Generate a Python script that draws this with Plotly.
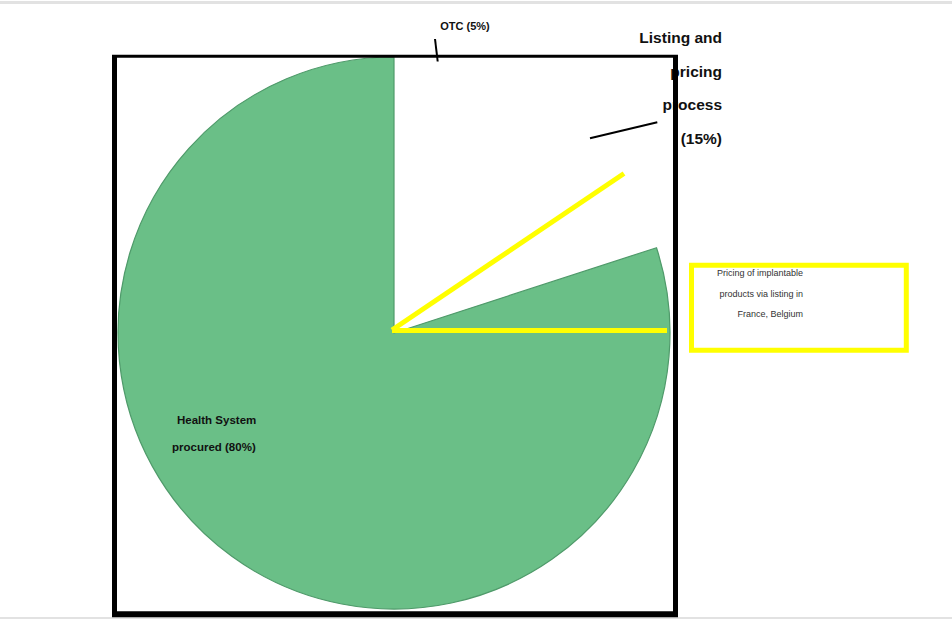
import plotly.graph_objects as go

# Share of reimbursement routes (drawn clockwise from 12 o'clock)
segments = ["OTC", "Listing and pricing process", "Health System procured"]
shares = [5, 15, 80]
slice_colors = ["#ffffff", "#ffffff", "#6abf87"]
edge_colors = ["#ffffff", "#ffffff", "#4f9a6a"]
edge_widths = [0, 0, 1.2]

# Label text
otc_label = "OTC (5%)"
listing_lines = ["Listing and", "pricing", "process", "(15%)"]
health_lines = ["Health System", "procured (80%)"]
box_lines = ["Pricing of implantable", "products via listing in", "France, Belgium"]

W, H = 952, 619
FONT = "Liberation Sans, Arial, sans-serif"

# Pie placement (pixels)
cx, cy, r = 394, 333, 276

fig = go.Figure()

fig.add_trace(go.Pie(
    labels=segments,
    values=shares,
    sort=False,
    direction="clockwise",
    rotation=0,
    marker=dict(colors=slice_colors, line=dict(color=edge_colors, width=edge_widths)),
    textinfo="none",
    hoverinfo="skip",
    showlegend=False,
    domain=dict(x=[(cx - r) / W, (cx + r) / W],
                y=[(H - cy - r) / H, (H - cy + r) / H]),
))

# Outside labels as text on a pixel-scaled axis
fig.add_trace(go.Scatter(
    x=[722] * len(listing_lines),
    y=[39 + 33.7 * i for i in range(len(listing_lines))],
    text=listing_lines,
    mode="text",
    textposition="middle left",
    textfont=dict(family=FONT, size=15.5, color="#111111", weight="bold"),
    hoverinfo="skip", showlegend=False,
))
fig.add_trace(go.Scatter(
    x=[465], y=[27], text=[otc_label], mode="text",
    textposition="middle center",
    textfont=dict(family=FONT, size=11, color="#111111", weight="bold"),
    hoverinfo="skip", showlegend=False,
))
fig.add_trace(go.Scatter(
    x=[803] * len(box_lines),
    y=[274 + 20.5 * i for i in range(len(box_lines))],
    text=box_lines, mode="text",
    textposition="middle left",
    textfont=dict(family=FONT, size=9, color="#333333"),
    hoverinfo="skip", showlegend=False,
))

# Label on the green slice
for i, line in enumerate(health_lines):
    fig.add_annotation(x=258, y=420 + 27 * i, xref="x", yref="y", text=f"<b>{line}</b>",
                       showarrow=False, xanchor="right", yanchor="middle",
                       font=dict(family=FONT, size=11.5, color="#111111"))

shapes = []
# thin grey page bands
shapes.append(dict(type="rect", x0=0, x1=W, y0=1, y1=4, fillcolor="#e2e2e2", line_width=0, layer="below"))
shapes.append(dict(type="rect", x0=0, x1=W, y0=617, y1=619, fillcolor="#e2e2e2", line_width=0, layer="below"))
# black frame around the pie
shapes.append(dict(type="line", x0=112, x1=678, y0=56.3, y1=56.3, line=dict(color="black", width=3)))
shapes.append(dict(type="line", x0=114.5, x1=114.5, y0=55, y1=617, line=dict(color="black", width=5)))
shapes.append(dict(type="line", x0=675.5, x1=675.5, y0=55, y1=617, line=dict(color="black", width=5)))
shapes.append(dict(type="line", x0=112, x1=678, y0=614.2, y1=614.2, line=dict(color="black", width=6)))
# leader lines
shapes.append(dict(type="line", x0=435, y0=39, x1=437.7, y1=61.5, line=dict(color="black", width=2)))
shapes.append(dict(type="line", x0=590, y0=138.3, x1=657.3, y1=122.3, line=dict(color="black", width=2)))
# yellow highlight rays
shapes.append(dict(type="line", x0=392, y0=330, x1=624, y1=173.5, line=dict(color="#ffff00", width=5)))
shapes.append(dict(type="line", x0=392, y0=330.5, x1=667, y1=330.5, line=dict(color="#ffff00", width=5)))
# yellow callout box
shapes.append(dict(type="rect", x0=691.5, x1=906.3, y0=265.2, y1=350.3,
                   line=dict(color="#ffff00", width=5), fillcolor="rgba(0,0,0,0)"))
for s in shapes:
    s.setdefault("layer", "above")
    s["xref"] = "x"
    s["yref"] = "y"

fig.update_layout(
    width=W, height=H,
    margin=dict(l=0, r=0, t=0, b=0),
    paper_bgcolor="white", plot_bgcolor="rgba(0,0,0,0)",
    xaxis=dict(range=[0, W], visible=False, fixedrange=True, domain=[0, 1]),
    yaxis=dict(range=[H, 0], visible=False, fixedrange=True, domain=[0, 1]),
    shapes=shapes,
    showlegend=False,
)

fig.write_html("out.html", config={"displayModeBar": False})
